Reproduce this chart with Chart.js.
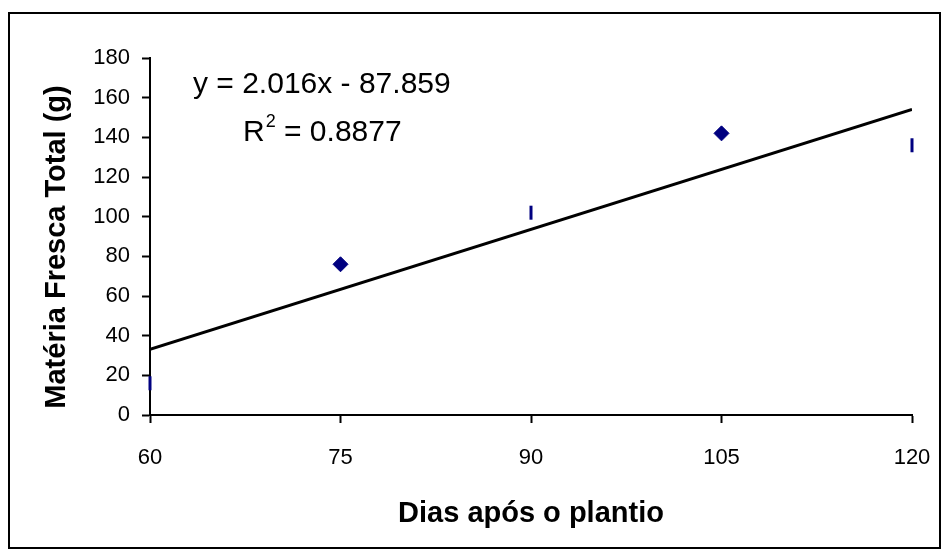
<!DOCTYPE html>
<html>
<head>
<meta charset="utf-8">
<script src="https://cdn.jsdelivr.net/npm/chart.js@4"></script>
<style>
  body { margin: 0; background: #fff; }
  canvas { display: block; }
</style>
</head>
<body>
<canvas id="chart" width="943" height="550"></canvas>
<script>
const diamondDays = [75, 105];
const diamondValues = [76, 142];
const dashDays = [60, 90, 120];
const dashValues = [16, 102, 136];

// linear trend given on the chart
const trendSlope = 2.016;
const trendIntercept = -87.859;
const trendDays = [60, 120];

const xTicks = [60, 75, 90, 105, 120];
const yMin = 0, yMax = 180, yStep = 20;

const xTitle = 'Dias após o plantio';
const yTitle = 'Matéria Fresca Total (g)';
const eqText = 'y = 2.016x - 87.859';
const r2Parts = ['R', '2', ' = 0.8877'];

const fontFamily = '"Liberation Sans", Arial, sans-serif';
const navy = '#000080';

function toPoints(xs, ys) {
    return xs.map((x, i) => ({ x: x, y: ys[i] }));
}

// outer frame, axis titles and the trendline label
const framePlugin = {
    id: 'frame',
    beforeDraw(chart) {
        const ctx = chart.ctx;
        ctx.save();
        ctx.fillStyle = '#fff';
        ctx.fillRect(0, 0, chart.width, chart.height);
        ctx.strokeStyle = '#000';
        ctx.lineWidth = 2;
        ctx.strokeRect(9, 13, 931, 535);
        ctx.restore();
    },
    afterDraw(chart) {
        const ctx = chart.ctx;
        const area = chart.chartArea;
        ctx.save();
        ctx.fillStyle = '#000';
        ctx.textBaseline = 'alphabetic';

        // equation
        ctx.font = '30px ' + fontFamily;
        ctx.textAlign = 'left';
        ctx.fillText(eqText, 193, 93);
        let x = 243;
        ctx.fillText(r2Parts[0], x, 141);
        x += ctx.measureText(r2Parts[0]).width;
        ctx.font = '18px ' + fontFamily;
        ctx.fillText(r2Parts[1], x + 1, 127);
        x += ctx.measureText(r2Parts[1]).width + 1;
        ctx.font = '30px ' + fontFamily;
        ctx.fillText(r2Parts[2], x, 141);

        // axis titles
        ctx.font = 'bold 29px ' + fontFamily;
        ctx.textAlign = 'center';
        ctx.fillText(xTitle, (area.left + area.right) / 2, 522);
        ctx.translate(65, 247);
        ctx.rotate(-Math.PI / 2);
        ctx.fillText(yTitle, 0, 0);
        ctx.restore();
    }
};

const ctx = document.getElementById('chart').getContext('2d');
const chart = new Chart(ctx, {
    type: 'scatter',
    data: {
        datasets: [{
            label: 'tendência',
            type: 'line',
            data: toPoints(trendDays, trendDays.map(d => trendSlope * d + trendIntercept)),
            borderColor: '#000',
            borderWidth: 3,
            pointRadius: 0,
            fill: false,
            order: 2
        }, {
            label: 'a',
            data: toPoints(diamondDays, diamondValues),
            pointStyle: 'rectRot',
            pointRadius: 7.5,
            pointBackgroundColor: navy,
            pointBorderColor: navy,
            pointBorderWidth: 1,
            order: 1
        }, {
            label: 'b',
            data: toPoints(dashDays, dashValues),
            pointStyle: 'line',
            pointRotation: 90,
            pointRadius: 7,
            pointBorderColor: navy,
            pointBorderWidth: 3,
            clip: false,
            order: 0
        }]
    },
    options: {
        responsive: false,
        animation: false,
        layout: { padding: { left: 0, top: 58, right: 31, bottom: 0 } },
        plugins: {
            legend: { display: false },
            tooltip: { enabled: false }
        },
        scales: {
            x: {
                type: 'linear',
                min: xTicks[0],
                max: xTicks[xTicks.length - 1],
                afterBuildTicks: s => { s.ticks = xTicks.map(v => ({ value: v })); },
                afterFit: s => { s.height = 135; s.paddingLeft = 0; s.paddingRight = 0; },
                grid: { drawOnChartArea: false, tickLength: 8, tickWidth: 2, tickColor: '#000' },
                border: { color: '#000', width: 2 },
                ticks: { color: '#000', padding: 22, maxRotation: 0, font: { family: fontFamily, size: 22 } }
            },
            y: {
                min: yMin,
                max: yMax,
                afterFit: s => { s.width = 150; s.paddingTop = 0; s.paddingBottom = 0; },
                grid: { drawOnChartArea: false, tickLength: 8, tickWidth: 2, tickColor: '#000' },
                border: { color: '#000', width: 2 },
                ticks: { color: '#000', stepSize: yStep, padding: 12, font: { family: fontFamily, size: 22 } }
            }
        }
    },
    plugins: [framePlugin]
});
</script>
</body>
</html>
